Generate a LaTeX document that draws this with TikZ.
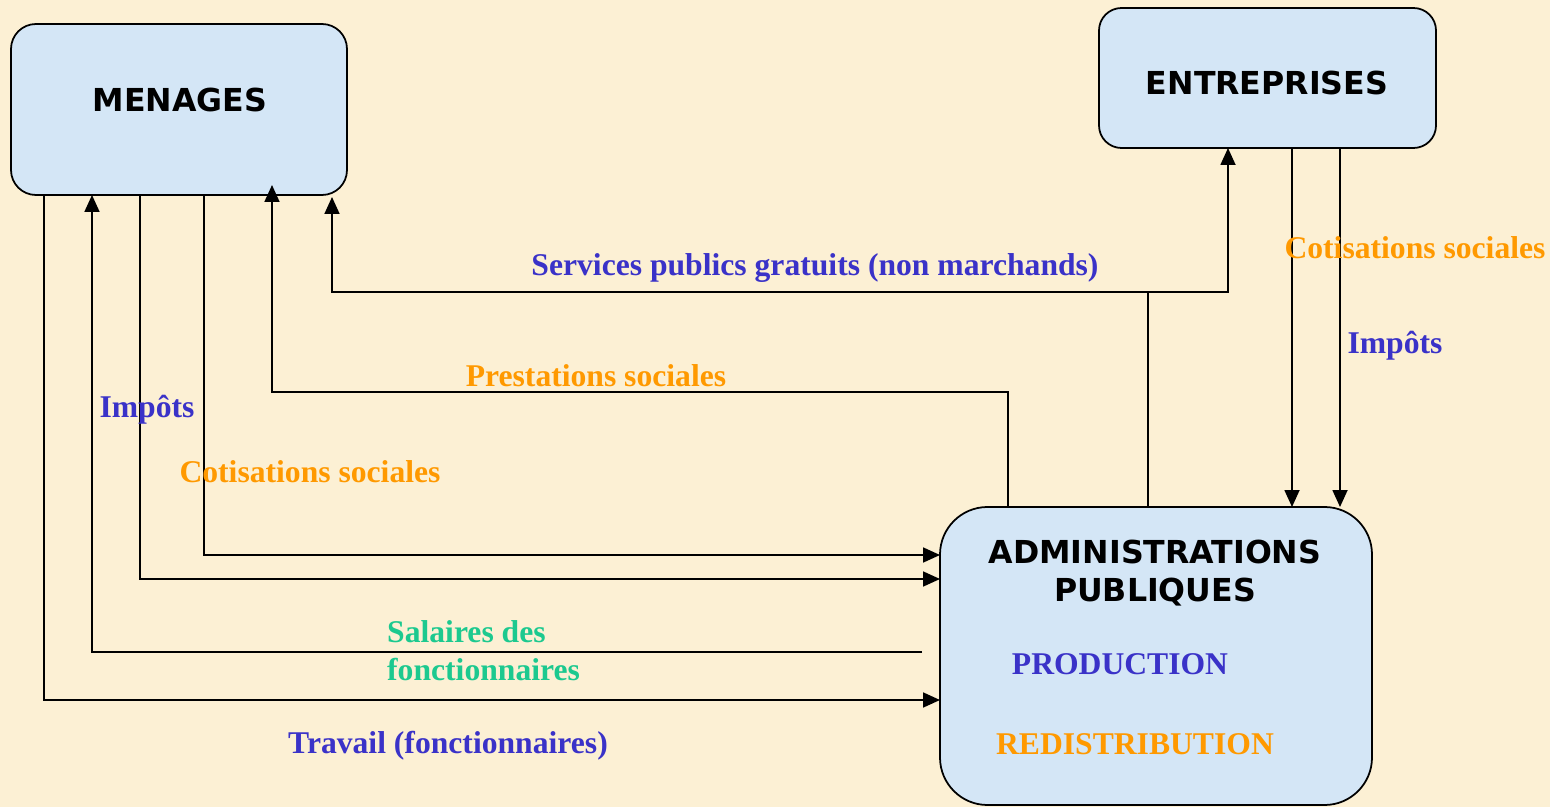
\documentclass[tikz,border=0pt]{standalone}
\usepackage{fontspec}
\setmainfont{Liberation Serif}
\newfontfamily\boxfont{DejaVu Sans}
\usetikzlibrary{arrows.meta}

\definecolor{paper}{RGB}{252,240,212}
\definecolor{boxblue}{RGB}{212,230,246}
\definecolor{lblue}{RGB}{58,50,200}
\definecolor{lorange}{RGB}{255,153,0}
\definecolor{lgreen}{RGB}{28,201,143}

\begin{document}
\begin{tikzpicture}[
	agent/.style={draw=black, line width=1pt, fill=boxblue, outer sep=0pt},
	title/.style={font=\boxfont\bfseries\fontsize{18}{21.6}\selectfont, align=center},
	lbl/.style={font=\bfseries\fontsize{18}{21.6}\selectfont},
	flow/.style={line width=1pt, -{Triangle[length=3.4mm,width=3mm]}},
	wire/.style={line width=1pt}
]

	% background
	\fill[paper] (0,0) rectangle (31,-16.14);
	\useasboundingbox (0,0) rectangle (31,-16.14);

	% boxes
	\node[agent, rounded corners=0.5cm, minimum width=6.72cm, minimum height=3.42cm] (men) at (3.58,-2.19) {};
	\node[agent, rounded corners=0.45cm, minimum width=6.74cm, minimum height=2.8cm] (ent) at (25.35,-1.56) {};
	\node[agent, rounded corners=0.95cm, minimum width=8.64cm, minimum height=5.96cm] (adm) at (23.12,-13.12) {};

	% box titles
	\node[title] (men-t) at (3.6,-2.0) {MENAGES};
	\node[title] (ent-t) at (25.34,-1.66) {ENTREPRISES};
	\node[title] (adm-t) at (23.1,-11.46) {ADMINISTRATIONS\\PUBLIQUES};
	\node[lbl, text=lblue] (prod) at (22.4,-13.28) {PRODUCTION};
	\node[lbl, text=lorange] (redis) at (22.7,-14.88) {REDISTRIBUTION};

	% lanes
	\coordinate (trav) at (0.88,-14.0);
	\coordinate (sal) at (18.44,-13.04);
	\coordinate (sal-up) at (1.84,-13.04);
	\coordinate (imp) at (2.8,-11.58);
	\coordinate (cot) at (4.08,-11.1);
	\coordinate (pres) at (5.44,-7.84);
	\coordinate (pres-r) at (20.16,-7.84);
	\coordinate (serv) at (22.96,-5.84);
	\coordinate (serv-l) at (6.64,-5.84);
	\coordinate (serv-r) at (24.56,-5.84);
	\coordinate (ecot) at (25.84,-4.0);
	\coordinate (eimp) at (26.8,-4.0);

	% menages -> administrations
	\draw[flow] (men.south -| trav) |- (adm.west |- trav);
	\draw[flow] (men.south -| imp) |- (adm.west |- imp);
	\draw[flow] (men.south -| cot) |- (adm.west |- cot);

	% administrations -> menages
	\draw[flow] (sal) -- (sal-up) -- (men.south -| sal-up);
	\draw[flow] (adm.north -| pres-r) -- (pres-r) -- (pres) -- ([yshift=0.2cm]men.south -| pres);

	% services publics
	\draw[wire] (adm.north -| serv) -- (serv);
	\draw[flow] (serv) -- (serv-l) -- ([yshift=-0.04cm]men.south -| serv-l);
	\draw[flow] (serv) -- (serv-r) -- (ent.south -| serv-r);

	% entreprises -> administrations
	\draw[flow] (ent.south -| ecot) -- (adm.north -| ecot);
	\draw[flow] (ent.south -| eimp) -- (adm.north -| eimp);

	% flow labels
	\node[lbl, text=lblue] (l-serv) at (16.3,-5.36) {Services publics gratuits (non marchands)};
	\node[lbl, text=lorange] (l-pres) at (11.92,-7.52) {Prestations sociales};
	\node[lbl, text=lblue] (l-imp) at (2.94,-8.2) {Impôts};
	\node[lbl, text=lorange] (l-cot) at (6.2,-9.44) {Cotisations sociales};
	\node[lbl, text=lgreen, align=left, anchor=west] (l-sal) at (7.62,-13.02) {Salaires des\\fonctionnaires};
	\node[lbl, text=lblue] (l-trav) at (8.96,-14.92) {Travail (fonctionnaires)};
	\node[lbl, text=lorange] (l-cot2) at (28.3,-4.96) {Cotisations sociales};
	\node[lbl, text=lblue] (l-imp2) at (27.9,-6.92) {Impôts};

\end{tikzpicture}
\end{document}
